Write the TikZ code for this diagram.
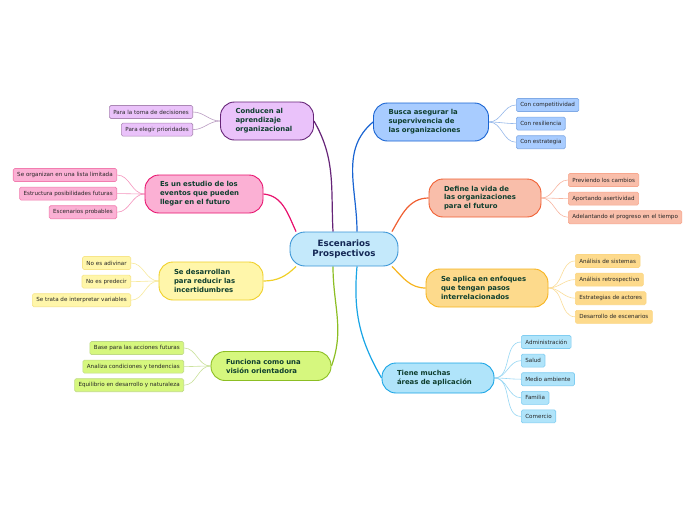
\documentclass[tikz,border=0pt]{standalone}
\usepackage{fontspec}
\setmainfont{DejaVu Sans}
\usetikzlibrary{positioning,backgrounds}
\definecolor{ctrA}{RGB}{196,233,251}
\definecolor{ctrB}{RGB}{58,150,215}
\definecolor{navytxt}{RGB}{20,40,85}
\definecolor{greentxt}{RGB}{14,62,46}
\definecolor{purpA}{RGB}{234,194,250}
\definecolor{purpB}{RGB}{102,36,120}
\definecolor{pinkA}{RGB}{251,176,212}
\definecolor{pinkB}{RGB}{232,18,110}
\definecolor{yellA}{RGB}{255,246,170}
\definecolor{yellB}{RGB}{240,208,40}
\definecolor{limeA}{RGB}{214,247,126}
\definecolor{limeB}{RGB}{140,190,35}
\definecolor{blueA}{RGB}{168,204,255}
\definecolor{blueB}{RGB}{25,100,210}
\definecolor{salmA}{RGB}{249,190,170}
\definecolor{salmB}{RGB}{240,95,50}
\definecolor{orngA}{RGB}{253,218,140}
\definecolor{orngB}{RGB}{247,180,30}
\definecolor{cyanA}{RGB}{176,228,250}
\definecolor{cyanB}{RGB}{25,165,230}

\begin{document}
\begin{tikzpicture}[x=1pt,y=1pt,
    topic/.style={fill=#1A,draw=#1B,rounded corners=14pt,line width=0.9pt,align=left,
      font=\fontsize{6.9}{8.9}\selectfont\bfseries,text=greentxt,inner xsep=15pt,inner ysep=3pt},
    lf/.style={fill=#1A,draw=#1B!55,rounded corners=1.5pt,line width=0.6pt,
      font=\fontsize{5.6}{6.5}\selectfont,text=black!85,inner xsep=4pt,inner ysep=0pt,minimum height=13pt},
    link/.style={draw=#1B,line width=1.2pt},
    twig/.style={draw=#1B!45,line width=0.6pt}]
    \useasboundingbox (0,0) rectangle (696,-520);

    % centre
    \node[draw=ctrB,fill=ctrA,rounded corners=15pt,line width=0.9pt,align=center,
      font=\fontsize{8.7}{10.7}\selectfont\bfseries,text=navytxt,
      minimum width=108pt,minimum height=34pt] (ctr) at (344,-249) {Escenarios\\Prospectivos};

    % main topics
    \node[topic=purp,text width=63pt,minimum height=38pt] (t1) at (267,-121) {Conducen al\\aprendizaje\\organizacional};
    \node[topic=pink,text width=88pt,minimum height=38pt] (t2) at (204,-194) {Es un estudio de los\\eventos que pueden\\llegar en el futuro};
    \node[topic=yell,text width=74pt,minimum height=38pt] (t3) at (211,-281) {Se desarrollan\\para reducir las\\incertidumbres};
    \node[topic=lime,text width=90pt,minimum height=29pt] (t4) at (271,-366) {Funciona como una\\visión orientadora};
    \node[topic=blue,text width=85pt,minimum height=38pt] (t5) at (431,-122) {Busca asegurar la\\supervivencia de\\las organizaciones};
    \node[topic=salm,text width=82pt,minimum height=38pt] (t6) at (485,-198) {Define la vida de\\las organizaciones\\para el futuro};
    \node[topic=orng,text width=92pt,minimum height=38pt] (t7) at (487,-288) {Se aplica en enfoques\\que tengan pasos\\interrelacionados};
    \node[topic=cyan,text width=82pt,minimum height=30pt] (t8) at (438,-378) {Tiene muchas\\áreas de aplicación};

    % leaves, left side
    \node[lf=purp,anchor=east] (a1) at (193,-112) {Para la toma de decisiones};
    \node[lf=purp,below=4pt of a1.south east,anchor=north east] (a2) {Para elegir prioridades};

    \node[lf=pink,anchor=east] (b1) at (117,-175) {Se organizan en una lista limitada};
    \node[lf=pink,below=5pt of b1.south east,anchor=north east] (b2) {Estructura posibilidades futuras};
    \node[lf=pink,below=5pt of b2.south east,anchor=north east] (b3) {Escenarios probables};

    \node[lf=yell,anchor=east] (c1) at (131,-263) {No es adivinar};
    \node[lf=yell,below=5pt of c1.south east,anchor=north east] (c2) {No es predecir};
    \node[lf=yell,below=5pt of c2.south east,anchor=north east] (c3) {Se trata de interpretar variables};

    \node[lf=lime,anchor=east] (d1) at (184,-348) {Base para las acciones futuras};
    \node[lf=lime,below=5pt of d1.south east,anchor=north east] (d2) {Analiza condiciones y tendencias};
    \node[lf=lime,below=5pt of d2.south east,anchor=north east] (d3) {Equilibrio en desarrollo y naturaleza};

    % leaves, right side
    \node[lf=blue,anchor=west] (e1) at (516,-105) {Con competitividad};
    \node[lf=blue,below=5pt of e1.south west,anchor=north west] (e2) {Con resiliencia};
    \node[lf=blue,below=5pt of e2.south west,anchor=north west] (e3) {Con estrategia};

    \node[lf=salm,anchor=west] (f1) at (568,-180) {Previendo los cambios};
    \node[lf=salm,below=5pt of f1.south west,anchor=north west] (f2) {Aportando asertividad};
    \node[lf=salm,below=5pt of f2.south west,anchor=north west] (f3) {Adelantando el progreso en el tiempo};

    \node[lf=orng,anchor=west] (g1) at (575,-261) {Análisis de sistemas};
    \node[lf=orng,below=5pt of g1.south west,anchor=north west] (g2) {Análisis retrospectivo};
    \node[lf=orng,below=5pt of g2.south west,anchor=north west] (g3) {Estrategias de actores};
    \node[lf=orng,below=5pt of g3.south west,anchor=north west] (g4) {Desarrollo de escenarios};

    \node[lf=cyan,anchor=west] (h1) at (521,-342) {Administración};
    \node[lf=cyan,below=5pt of h1.south west,anchor=north west] (h2) {Salud};
    \node[lf=cyan,below=5pt of h2.south west,anchor=north west] (h3) {Medio ambiente};
    \node[lf=cyan,below=5pt of h3.south west,anchor=north west] (h4) {Familia};
    \node[lf=cyan,below=5pt of h4.south west,anchor=north west] (h5) {Comercio};

    \begin{pgfonlayer}{background}
    \fill[white] (0,0) rectangle (696,-520);
    % branches from the centre
    \draw[link=purp] ([xshift=-11pt]ctr.north) to[out=93,in=-60] (t1.east);
    \draw[link=pink] (ctr.160) to[out=115,in=-5] (t2.east);
    \draw[link=yell] (ctr.200) to[out=225,in=0] (t3.east);
    \draw[link=lime] ([xshift=-11pt]ctr.south) to[out=-90,in=70] (t4.east);
    \draw[link=blue] ([xshift=13pt]ctr.north) to[out=90,in=-140] (t5.west);
    \draw[link=salm] (ctr.20) to[out=60,in=180] (t6.west);
    \draw[link=orng] (ctr.-20) to[out=-45,in=180] (t7.west);
    \draw[link=cyan] ([xshift=13pt]ctr.south) to[out=-95,in=120] (t8.west);
    % twigs to the leaves
    \draw[twig=purp] (t1.west) to[out=180,in=0] (a1.east);
    \draw[twig=purp] (t1.west) to[out=180,in=0] (a2.east);
    \draw[twig=pink] (t2.west) to[out=180,in=0] (b1.east);
    \draw[twig=pink] (t2.west) to[out=180,in=0] (b2.east);
    \draw[twig=pink] (t2.west) to[out=180,in=0] (b3.east);
    \draw[twig=yell] (t3.west) to[out=180,in=0] (c1.east);
    \draw[twig=yell] (t3.west) to[out=180,in=0] (c2.east);
    \draw[twig=yell] (t3.west) to[out=180,in=0] (c3.east);
    \draw[twig=lime] (t4.west) to[out=180,in=0] (d1.east);
    \draw[twig=lime] (t4.west) to[out=180,in=0] (d2.east);
    \draw[twig=lime] (t4.west) to[out=180,in=0] (d3.east);
    \draw[twig=blue] (t5.east) to[out=0,in=180] (e1.west);
    \draw[twig=blue] (t5.east) to[out=0,in=180] (e2.west);
    \draw[twig=blue] (t5.east) to[out=0,in=180] (e3.west);
    \draw[twig=salm] (t6.east) to[out=0,in=180] (f1.west);
    \draw[twig=salm] (t6.east) to[out=0,in=180] (f2.west);
    \draw[twig=salm] (t6.east) to[out=0,in=180] (f3.west);
    \draw[twig=orng] (t7.east) to[out=0,in=180] (g1.west);
    \draw[twig=orng] (t7.east) to[out=0,in=180] (g2.west);
    \draw[twig=orng] (t7.east) to[out=0,in=180] (g3.west);
    \draw[twig=orng] (t7.east) to[out=0,in=180] (g4.west);
    \draw[twig=cyan] (t8.east) to[out=0,in=180] (h1.west);
    \draw[twig=cyan] (t8.east) to[out=0,in=180] (h2.west);
    \draw[twig=cyan] (t8.east) to[out=0,in=180] (h3.west);
    \draw[twig=cyan] (t8.east) to[out=0,in=180] (h4.west);
    \draw[twig=cyan] (t8.east) to[out=0,in=180] (h5.west);
    \end{pgfonlayer}
\end{tikzpicture}
\end{document}
